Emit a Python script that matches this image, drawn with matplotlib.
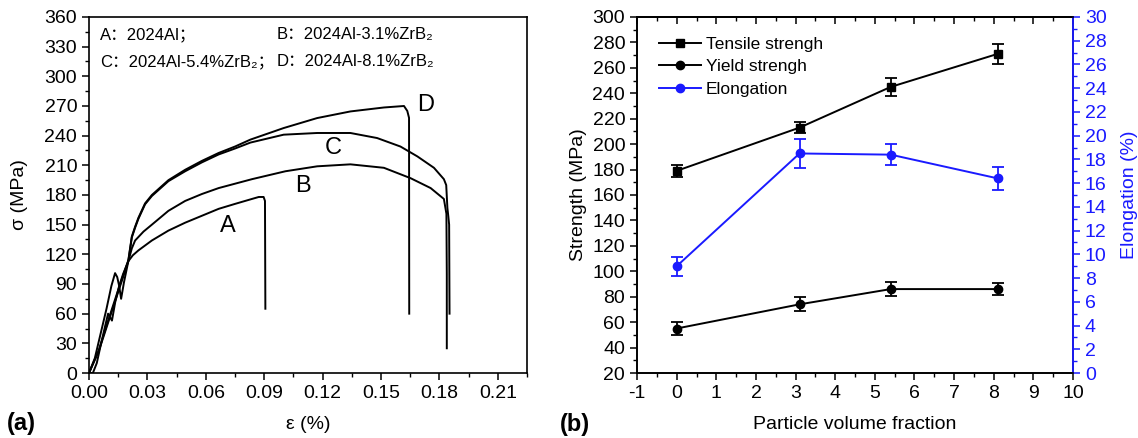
import numpy as np
import matplotlib
matplotlib.use('Agg')
import matplotlib.pyplot as plt
from matplotlib.ticker import MultipleLocator

# (a) stress-strain curves
A_STRAIN = [0.000, 0.002, 0.004, 0.006, 0.008, 0.0098, 0.0118, 0.0135, 0.0155, 0.0175, 0.0202,
            0.0225, 0.0254, 0.0323, 0.0408, 0.0494, 0.058, 0.0666, 0.075, 0.0837, 0.0872,
            0.0897, 0.0904, 0.0906]
A_STRESS = [0, 0, 10, 28, 45, 60, 53, 72, 88, 100, 113,
            119, 124, 134, 144, 152, 159, 166, 171, 176, 178,
            178, 174, 65]

B_STRAIN = [0.000, 0.003, 0.006, 0.009, 0.0115, 0.0134, 0.0145, 0.0155, 0.0165, 0.018, 0.0202,
            0.022, 0.0237, 0.028, 0.0323, 0.0408, 0.0494, 0.058, 0.0666, 0.0837, 0.1009,
            0.1172, 0.1343, 0.1515, 0.1652, 0.1755, 0.1823, 0.1836, 0.1838, 0.1838]
B_STRESS = [0, 15, 40, 65, 88, 101, 97, 88, 75, 92, 113,
            126, 134, 143, 150, 164, 174, 181, 187, 196, 204,
            209, 211, 207.5, 197, 187, 176, 161, 100, 25]

C_STRAIN = [0.000, 0.005, 0.010, 0.015, 0.0202, 0.022, 0.0237, 0.0254, 0.0288, 0.0323, 0.0408,
            0.0494, 0.058, 0.0666, 0.075, 0.0829, 0.1, 0.1172, 0.1343, 0.148, 0.16,
            0.1687, 0.1772, 0.1823, 0.1835, 0.1841, 0.1846, 0.1850, 0.1852]
C_STRESS = [0, 22, 52, 82, 113, 137, 147, 156, 170.6, 179, 194,
            204, 213, 221, 227, 233, 241, 242.7, 242.7, 237.6, 229,
            219, 207.5, 196, 190, 167, 158, 150, 60]

D_STRAIN = [0.000, 0.005, 0.010, 0.015, 0.0202, 0.022, 0.0237, 0.0254, 0.0288, 0.0323, 0.0408,
            0.0494, 0.058, 0.0666, 0.075, 0.0829, 0.1, 0.1172, 0.1343, 0.1515, 0.1618,
            0.1635, 0.1644, 0.1645]
D_STRESS = [0, 23, 54, 84, 114, 138, 148, 157, 171.5, 180, 195,
            205.5, 214.5, 222.5, 229, 236, 247.7, 257.8, 264.5, 268.5, 270,
            265, 258, 60]

CURVE_LABELS = ['A', 'B', 'C', 'D']
LABEL_POS = [(0.0715, 149), (0.110, 189), (0.1256, 227.6), (0.173, 271.5)]
KEY_TEXT = ['A\uff1a2024Al\uff1b', 'B\uff1a2024Al-3.1%ZrB\u2082',
            'C\uff1a2024Al-5.4%ZrB\u2082\uff1b', 'D\uff1a2024Al-8.1%ZrB\u2082']

# (b) properties vs particle volume fraction
FRACTION = [0, 3.1, 5.4, 8.1]
TENSILE = [179, 213, 245, 271]
TENSILE_ERR = [4.5, 4.5, 7, 8]
YIELD = [55, 74, 86, 86]
YIELD_ERR = [5, 5.5, 5.5, 5]
ELONG = [9.0, 18.5, 18.4, 16.4]
ELONG_ERR = [0.8, 1.2, 0.9, 1.0]

BLUE = '#1a1aff'


def plot_curves(ax):
    """ Stress-strain curves """
    for strain, stress in [(A_STRAIN, A_STRESS), (B_STRAIN, B_STRESS),
                           (C_STRAIN, C_STRESS), (D_STRAIN, D_STRESS)]:
        ax.plot(strain, stress, '-', color='black', linewidth=1.4)
    for lab, (x, y) in zip(CURVE_LABELS, LABEL_POS):
        ax.text(x, y, lab, fontsize=17, ha='center', va='center')
    ax.text(0.0055, 342, KEY_TEXT[0], fontsize=12, va='center')
    ax.text(0.0965, 342, KEY_TEXT[1], fontsize=12, va='center')
    ax.text(0.0055, 315, KEY_TEXT[2], fontsize=12, va='center')
    ax.text(0.0965, 315, KEY_TEXT[3], fontsize=12, va='center')
    ax.set_xlim(0, 0.225)
    ax.set_ylim(0, 360)
    ax.xaxis.set_minor_locator(MultipleLocator(0.015))
    ax.yaxis.set_major_locator(MultipleLocator(30))
    ax.yaxis.set_minor_locator(MultipleLocator(15))
    ticks = np.arange(0, 0.211, 0.03)
    ax.set_xticks(ticks)
    ax.set_xticklabels(['%.2f' % v for v in ticks])
    ax.tick_params(which='major', length=5, width=1.1, labelsize=14)
    ax.tick_params(which='minor', length=3, width=1.0)
    ax.set_xlabel('\u03b5 (%)', fontsize=14, labelpad=10)
    ax.set_ylabel('\u03c3 (MPa)', fontsize=14, labelpad=12)


def plot_properties(ax):
    """ Strength and elongation """
    style = dict(markersize=6, linewidth=1.4, capsize=4, elinewidth=1.3, capthick=1.3)
    ax.errorbar(FRACTION, TENSILE, yerr=TENSILE_ERR, fmt='s-', color='black',
                label='Tensile strengh', **style)
    ax.errorbar(FRACTION, YIELD, yerr=YIELD_ERR, fmt='o-', color='black',
                label='Yield strengh', **style)
    ax2 = ax.twinx()
    ax2.errorbar(FRACTION, ELONG, yerr=ELONG_ERR, fmt='o-', color=BLUE,
                 label='Elongation', **style)
    ax.set_xlim(-1, 10)
    ax.set_ylim(20, 300)
    ax2.set_ylim(0, 30)
    ax.xaxis.set_major_locator(MultipleLocator(1))
    ax.xaxis.set_minor_locator(MultipleLocator(0.5))
    ax.yaxis.set_major_locator(MultipleLocator(20))
    ax.yaxis.set_minor_locator(MultipleLocator(10))
    ax2.yaxis.set_major_locator(MultipleLocator(2))
    ax2.yaxis.set_minor_locator(MultipleLocator(1))
    ax.tick_params(which='major', length=5, width=1.1, labelsize=14)
    ax.tick_params(which='minor', length=3, width=1.0)
    # inward ticks along the top
    sec = ax.secondary_xaxis('top')
    sec.xaxis.set_major_locator(MultipleLocator(1))
    sec.xaxis.set_minor_locator(MultipleLocator(0.5))
    sec.tick_params(which='major', direction='in', length=5, width=1.1, labeltop=False)
    sec.tick_params(which='minor', direction='in', length=3, width=1.0)
    ax2.tick_params(which='major', length=5, width=1.1, labelsize=14, colors=BLUE)
    ax2.tick_params(which='minor', length=3, width=1.0, colors=BLUE)
    ax2.spines['right'].set_color(BLUE)
    ax2.spines['right'].set_linewidth(1.3)
    ax.set_xlabel('Particle volume fraction', fontsize=14, labelpad=10)
    ax.set_ylabel('Strength (MPa)', fontsize=14, labelpad=4)
    ax2.set_ylabel('Elongation (%)', fontsize=14, color=BLUE, labelpad=10)
    h1, l1 = ax.get_legend_handles_labels()
    h2, l2 = ax2.get_legend_handles_labels()
    handles = [h[0] for h in h1 + h2]
    ax.legend(handles, l1 + l2, loc='upper left', bbox_to_anchor=(0.05, 0.945), frameon=False,
              fontsize=12.5, handlelength=2.4, handletextpad=0.3, labelspacing=0.42,
              borderaxespad=0, borderpad=0)


def main():
    plt.rcParams['font.family'] = ['Liberation Sans', 'Noto Sans CJK SC', 'DejaVu Sans']
    plt.rcParams['axes.linewidth'] = 1.2
    plt.rcParams['axes.unicode_minus'] = False
    fig = plt.figure(figsize=(11.38, 4.38), dpi=100, facecolor='w')
    ax_a = fig.add_axes([0.0782, 0.1484, 0.3849, 0.8128])
    ax_b = fig.add_axes([0.5598, 0.1484, 0.3831, 0.8128])
    plot_curves(ax_a)
    plot_properties(ax_b)
    fig.text(0.006, 0.034, '(a)', fontsize=17, fontweight='bold', va='center')
    fig.text(0.492, 0.030, '(b)', fontsize=17, fontweight='bold', va='center')
    fig.savefig('out.png', dpi=100)


if __name__ == '__main__':
    main()
